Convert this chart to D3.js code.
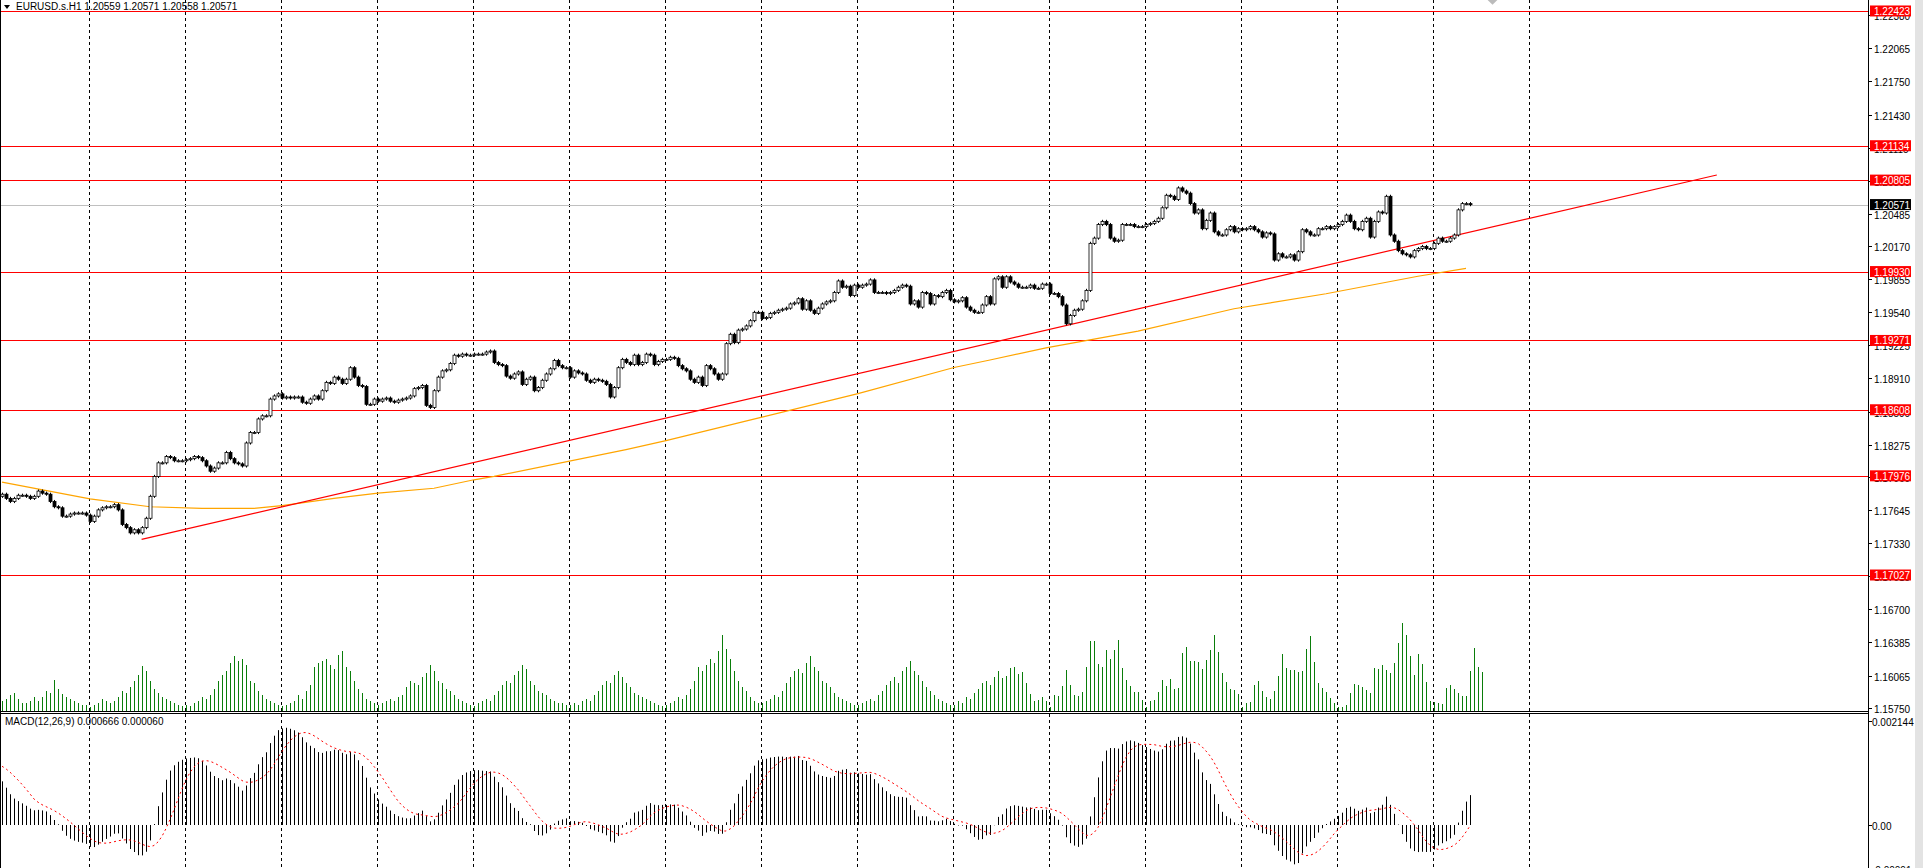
<!DOCTYPE html>
<html><head><meta charset="utf-8">
<script src="https://cdn.jsdelivr.net/npm/d3@7"></script>
<style>body{margin:0;background:#fff;overflow:hidden}svg{display:block}text{font-family:"Liberation Sans",Arial,sans-serif}</style>
</head><body>
<script>
// ---------------- DATA ----------------
const symbolTitle = "EURUSD.s.H1  1.20559 1.20571 1.20558 1.20571";
const macdTitle = "MACD(12,26,9) 0.000666 0.000060";
const basePrice = 1.17000;
// hourly closes, in pips above basePrice
const closePips = [
 80,76,73,76,79,79,78,76,78,83, 81,80,73,68,67,59,59,61,62,62,
 62,60,54,59,65,67,68,68,70,65, 51,48,43,46,43,48,57,78,97,110,
 110,116,115,112,112,112,113,114,116,115, 112,107,102,105,110,110,120,114,110,109,
 107,129,139,139,152,155,155,171,174,176, 172,173,172,173,173,168,167,171,174,171,
 179,187,186,192,190,186,190,201,192,184, 183,166,166,171,169,171,172,169,168,170,
 171,172,174,181,182,184,165,163,179,192, 198,199,205,213,212,214,213,213,214,214,
 214,216,217,206,204,203,193,191,195,197, 185,190,192,179,182,189,195,200,208,203,
 201,201,192,198,196,195,189,187,190,189, 188,185,173,182,201,209,206,204,213,204,
 206,214,213,204,207,209,209,211,210,203, 200,198,190,187,192,184,203,200,195,190,
 195,224,233,225,237,238,241,246,254,254, 248,249,253,254,256,257,258,262,263,267,
 257,265,256,253,258,262,264,265,273,284, 278,279,270,280,278,280,281,285,273,273,
 273,272,273,275,278,280,279,262,265,259, 273,272,262,270,269,273,275,266,264,265,
 268,259,256,254,254,261,269,262,286,288, 278,288,283,281,278,278,278,280,277,277,
 281,281,272,272,269,261,243,251,256,257, 265,275,320,325,338,341,338,325,322,323,
 338,338,338,336,336,336,338,339,341,344, 354,366,365,362,373,370,368,358,349,352,
 334,342,349,331,328,328,333,336,331,334, 333,334,336,333,331,326,330,329,304,310,
 307,307,309,304,312,333,331,328,328,334, 334,336,334,336,338,341,347,341,334,333,
 341,344,326,341,350,349,365,328,322,313, 310,309,307,313,315,317,315,315,320,325,
 322,322,325,328,352,358,358,357
];
// tick volume (bar heights in chart units)
const volumes = [
 10,12,16,18,12,8,8,10,14,10,14,20,18,31,22,17,14,12,10,8,6,6,
 4,6,8,12,10,8,10,14,20,18,24,30,36,45,40,30,22,18,14,12,10,8,6,5,
 6,5,8,10,14,12,16,22,30,36,40,48,55,50,52,46,30,28,20,16,12,10,8,6,
 5,6,8,10,16,12,20,26,44,48,50,52,46,42,56,60,44,40,30,22,18,12,10,8,
 6,8,10,12,10,14,16,24,30,28,26,34,38,46,40,30,28,22,20,16,12,10,8,6,
 5,8,10,12,10,16,20,26,30,28,36,40,46,42,30,26,20,18,16,12,10,8,8,6,
 6,8,6,10,12,10,16,20,26,30,28,36,40,34,28,24,18,16,14,12,10,8,6,5,
 6,8,10,14,12,16,22,30,44,40,46,52,48,60,76,62,52,40,30,24,20,14,10,8,
 8,10,12,16,14,20,28,34,40,42,38,48,55,44,40,30,28,24,18,14,12,10,8,6,
 6,8,10,12,10,16,20,26,30,34,28,40,44,50,40,36,30,24,20,16,12,10,8,6,
 6,10,8,14,12,18,22,28,30,26,34,40,
 33,35,43,44,37,39,28,17,10,11,14,10,4,16,15,25,41,26,16,15,19,44,70,70,47,44,61,52,61,71,
 43,31,25,19,19,11,4,10,11,19,31,25,32,22,23,58,64,50,50,49,42,51,61,76,59,38,29,22,21,17,
 4,8,9,26,30,20,14,12,20,35,57,43,41,41,39,40,62,75,49,28,23,19,13,8,4,
 4,6,18,27,26,24,21,18,43,42,46,41,38,48,68,88,76,55,36,57,47,29,10,9,8,7,23,26,22,18,15,15,40,63,44,39
];
// slow moving average (bar index, price)
const maIndex = [0,22,37,50,63,70,83,94,108,118,123,156,166,190,214,238,247,261,284,308,331,354,366];
const maPrice = [1.17915,1.17755,1.17680,1.17665,1.17665,1.17690,1.17760,1.17810,1.17857,1.17938,1.17970,
 1.18227,1.18313,1.18538,1.18762,1.19012,1.19084,1.19200,1.19360,1.19574,1.19718,1.19885,1.19960];
// trend line anchors
const trendIndex = [34.9, 428.7];
const trendPrice = [1.17368, 1.20854];
// horizontal levels
const levels = [1.22423,1.21134,1.20805,1.19930,1.19271,1.18608,1.17976,1.17027];
const lastPrice = 1.20571;
const priceTicks = ["1.22380","1.22065","1.21750","1.21430","1.21115","1.20800","1.20485","1.20170","1.19855",
 "1.19540","1.19225","1.18910","1.18590","1.18275","1.17960","1.17645","1.17330","1.17015","1.16700","1.16385","1.16065","1.15750"];
const macdTicks = ["0.002144","0.00","-0.00091"];
const macdSeed = [0.00090, 0.00125]; // main, signal at chart start
const dayStartIndex = [21.75,45.75,69.75,93.75,117.75,141.75,165.75,189.75,213.75,237.75,261.75,285.75,309.75,333.75,357.75,381.75];

// ---------------- DRAW ----------------
const W=1923,H=868, AX=1868, PB=711, MT=714;
const svg=d3.select("body").append("svg").attr("width",W).attr("height",H);
const x=d3.scaleLinear().domain([0,1]).range([2,6]);
const y=d3.scaleLinear().domain([1.15726,1.22528]).range([PB,0]);
const ym=d3.scaleLinear().domain([0,0.002144]).range([825,721]);
const yv=d3.scaleLinear().domain([0,100]).range([PB,PB-100]);

const closes=closePips.map(p=>basePrice+p/10000);
const bars=closes.map((c,i)=>{const o=i?closes[i-1]:basePrice+0.0078;return{i,o,c,h:Math.max(o,c)+0.00015,l:Math.min(o,c)-0.00015};});

// MACD
let e12=closes[0]+macdSeed[0]*0.45, e26=closes[0]-macdSeed[0]*0.55;
const main=[];
closes.forEach((c,i)=>{ if(i){e12+=(c-e12)*2/13; e26+=(c-e26)*2/27;} main.push(e12-e26);});
const hist=[...Array(8).fill(macdSeed[1]),...main];
const signal=main.map((m,i)=>d3.mean(hist.slice(i,i+9)));

const clipP=svg.append("clipPath").attr("id","cp").append("rect").attr("x",0).attr("y",0).attr("width",AX).attr("height",PB);
const clipM=svg.append("clipPath").attr("id","cm").append("rect").attr("x",0).attr("y",MT).attr("width",AX).attr("height",H-MT);

// grid
svg.append("g").selectAll("line").data(dayStartIndex).join("line")
 .attr("x1",d=>Math.round(x(d))+.5).attr("x2",d=>Math.round(x(d))+.5).attr("y1",0).attr("y2",H)
 .attr("stroke","#000").attr("stroke-dasharray","3,3");

// volume
svg.append("g").selectAll("line").data(volumes).join("line")
 .attr("x1",(d,i)=>x(i)+.5).attr("x2",(d,i)=>x(i)+.5).attr("y1",PB).attr("y2",d=>yv(d))
 .attr("stroke","#0a7d0a");

const gp=svg.append("g").attr("clip-path","url(#cp)");
// levels
gp.selectAll(".lv").data(levels).join("line").attr("x1",0).attr("x2",AX)
 .attr("y1",d=>Math.round(y(d))+.5).attr("y2",d=>Math.round(y(d))+.5).attr("stroke","#f00");
gp.append("line").attr("x1",0).attr("x2",AX).attr("y1",Math.round(y(lastPrice))+.5).attr("y2",Math.round(y(lastPrice))+.5).attr("stroke","#c0c0c0");
// MA
gp.append("path").datum(maIndex.map((d,k)=>[d,maPrice[k]]))
 .attr("d",d3.line().x(d=>x(d[0])).y(d=>y(d[1]))).attr("fill","none").attr("stroke","#ffa500").attr("stroke-width",1.2);
// trend
gp.append("line").attr("x1",x(trendIndex[0])).attr("y1",y(trendPrice[0])).attr("x2",x(trendIndex[1])).attr("y2",y(trendPrice[1])).attr("stroke","#f00").attr("stroke-width",1.2);
// candles
const cg=gp.append("g");
bars.forEach(b=>{
 const cx=Math.round(x(b.i))+.5;
 cg.append("line").attr("x1",cx).attr("x2",cx).attr("y1",y(b.h)).attr("y2",y(b.l)).attr("stroke","#000");
 const top=y(Math.max(b.o,b.c)), bot=y(Math.min(b.o,b.c));
 cg.append("rect").attr("x",cx-1.5).attr("y",top).attr("width",3).attr("height",Math.max(1,bot-top))
  .attr("fill",b.c>=b.o?"#fff":"#000").attr("stroke","#000").attr("stroke-width",0.8);
});
// tiny marker at top
svg.append("rect").attr("x",1488).attr("y",-6).attr("width",9).attr("height",9).attr("fill","#bbb").attr("transform","rotate(45,1492.5,-1.5)");

// MACD
const gm=svg.append("g").attr("clip-path","url(#cm)");
gm.selectAll("line").data(main).join("line").attr("x1",(d,i)=>Math.round(x(i))+.5).attr("x2",(d,i)=>Math.round(x(i))+.5)
 .attr("y1",ym(0)).attr("y2",d=>ym(d)).attr("stroke","#000");
gm.append("path").datum(signal).attr("d",d3.line().x((d,i)=>x(i)).y(d=>ym(d)))
 .attr("fill","none").attr("stroke","#f00").attr("stroke-dasharray","2,3");

// separators & borders
svg.append("line").attr("x1",0).attr("x2",AX).attr("y1",711.5).attr("y2",711.5).attr("stroke","#000");
svg.append("line").attr("x1",0).attr("x2",AX).attr("y1",713.5).attr("y2",713.5).attr("stroke","#000");
svg.append("line").attr("x1",0.5).attr("x2",0.5).attr("y1",0).attr("y2",H).attr("stroke","#000");
svg.append("line").attr("x1",AX+.5).attr("x2",AX+.5).attr("y1",0).attr("y2",H).attr("stroke","#000");
svg.append("rect").attr("x",1915).attr("y",0).attr("width",8).attr("height",H).attr("fill","#e3e3e3");

// price axis
const ax=svg.append("g");
priceTicks.forEach(t=>{const yy=Math.round(y(+t))+.5;
 ax.append("line").attr("x1",AX).attr("x2",AX+4).attr("y1",yy).attr("y2",yy).attr("stroke","#000");
 ax.append("text").attr("x",1874).attr("y",yy+4).attr("font-size",10).text(t);});
levels.forEach(l=>{const yy=y(l);
 ax.append("rect").attr("x",1870).attr("y",yy-5.5).attr("width",41).attr("height",11).attr("fill","#f00");
 ax.append("text").attr("x",1874).attr("y",yy+4).attr("font-size",10).attr("fill","#fff").text(l.toFixed(5));});
{const yy=y(lastPrice);
 ax.append("rect").attr("x",1870).attr("y",yy-5.5).attr("width",41).attr("height",11).attr("fill","#000");
 ax.append("text").attr("x",1874).attr("y",yy+4).attr("font-size",10).attr("fill","#fff").text(lastPrice.toFixed(5));}
macdTicks.forEach(t=>{const yy=Math.round(ym(+t))+.5;
 ax.append("line").attr("x1",AX).attr("x2",AX+4).attr("y1",yy).attr("y2",yy).attr("stroke","#000");
 ax.append("text").attr("x",1872).attr("y",yy+4).attr("font-size",10).text(t);});

// titles
svg.append("path").attr("d","M4,5 L10,5 L7,9 Z").attr("fill","#000");
svg.append("text").attr("x",16).attr("y",10).attr("font-size",10).text(symbolTitle);
svg.append("text").attr("x",5).attr("y",725).attr("font-size",10).text(macdTitle);
</script>
</body></html>
